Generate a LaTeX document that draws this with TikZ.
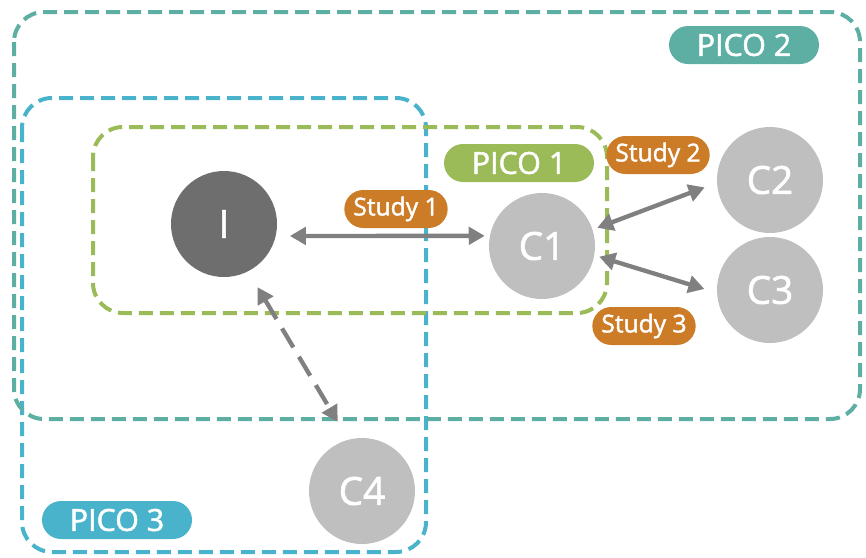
\documentclass[tikz,border=0pt]{standalone}
\usepackage{fontspec}
\setmainfont{Open Sans}
\newfontfamily\labelfont{Open Sans}[FakeBold=1.6]
\usetikzlibrary{arrows.meta, calc}
\definecolor{picoteal}{RGB}{93,175,163}
\definecolor{picoblue}{RGB}{74,179,204}
\definecolor{picogreen}{RGB}{155,187,89}
\definecolor{studyorange}{RGB}{204,123,38}
\definecolor{interdark}{RGB}{110,110,110}
\definecolor{armlight}{RGB}{191,191,191}
\definecolor{linkgray}{RGB}{128,128,128}

\begin{document}
\begin{tikzpicture}[x=0.03cm, y=-0.03cm,
  frame/.style={draw=#1, line width=0.12cm, dash pattern=on 0.42cm off 0.21cm, rounded corners=0.9cm},
  pill/.style={fill=#1, text=white, rounded corners=0.57cm, minimum height=1.14cm, minimum width=4.5cm, inner sep=0pt, font=\labelfont\fontsize{26}{30}\selectfont},
  study/.style={pill=studyorange, minimum width=3.1cm, font=\labelfont\fontsize{21}{24}\selectfont},
  arm/.style={circle, fill=#1, text=white, minimum size=3.18cm, inner sep=0pt, font=\labelfont\fontsize{33}{38}\selectfont},
  link/.style={draw=linkgray, line width=0.13cm, {Triangle[length=0.48cm,width=0.52cm]}-{Triangle[length=0.48cm,width=0.52cm]}}]
\useasboundingbox (0,0) rectangle (866,557);
% PICO frames
\draw[frame=picoblue] (22,98) rectangle (426,552);
\draw[frame=picoteal] (14,12) rectangle (860,419);
\draw[frame=picogreen] (93,127) rectangle (607,313);
% interventions and comparators
\node[arm=interdark] (I) at (224,224) {I};
\node[arm=armlight] (C1) at (542,246) {C1};
\node[arm=armlight] (C2) at (770,180) {C2};
\node[arm=armlight] (C3) at (770,290) {C3};
\node[arm=armlight] (C4) at (362,491) {C4};
% comparisons
\draw[link, shorten <=0.42cm, shorten >=0.15cm] (I.-13) -- (C1.169);
\draw[link, shorten <=0.15cm, shorten >=0.39cm] (C1.18) -- (C2.183);
\draw[link, shorten <=0.15cm, shorten >=0.39cm] (C1.-10) -- (C3.183);
\draw[link, dash pattern=on 0.66cm off 0.33cm, shorten <=0.55cm, shorten >=0.62cm] (I.-63) -- (C4.105);
% labels
\path
(396,209) node[study] (s1) {Study 1};
\path
(658,155) node[study] (s2) {Study 2};
\path
(644,326) node[study] (s3) {Study 3};
\path
(519,163) node[pill=picogreen] (p1) {PICO 1};
\path
(744,45) node[pill=picoteal] (p2) {PICO 2};
\path
(117,520) node[pill=picoblue] (p3) {PICO 3};
\end{tikzpicture}
\end{document}
